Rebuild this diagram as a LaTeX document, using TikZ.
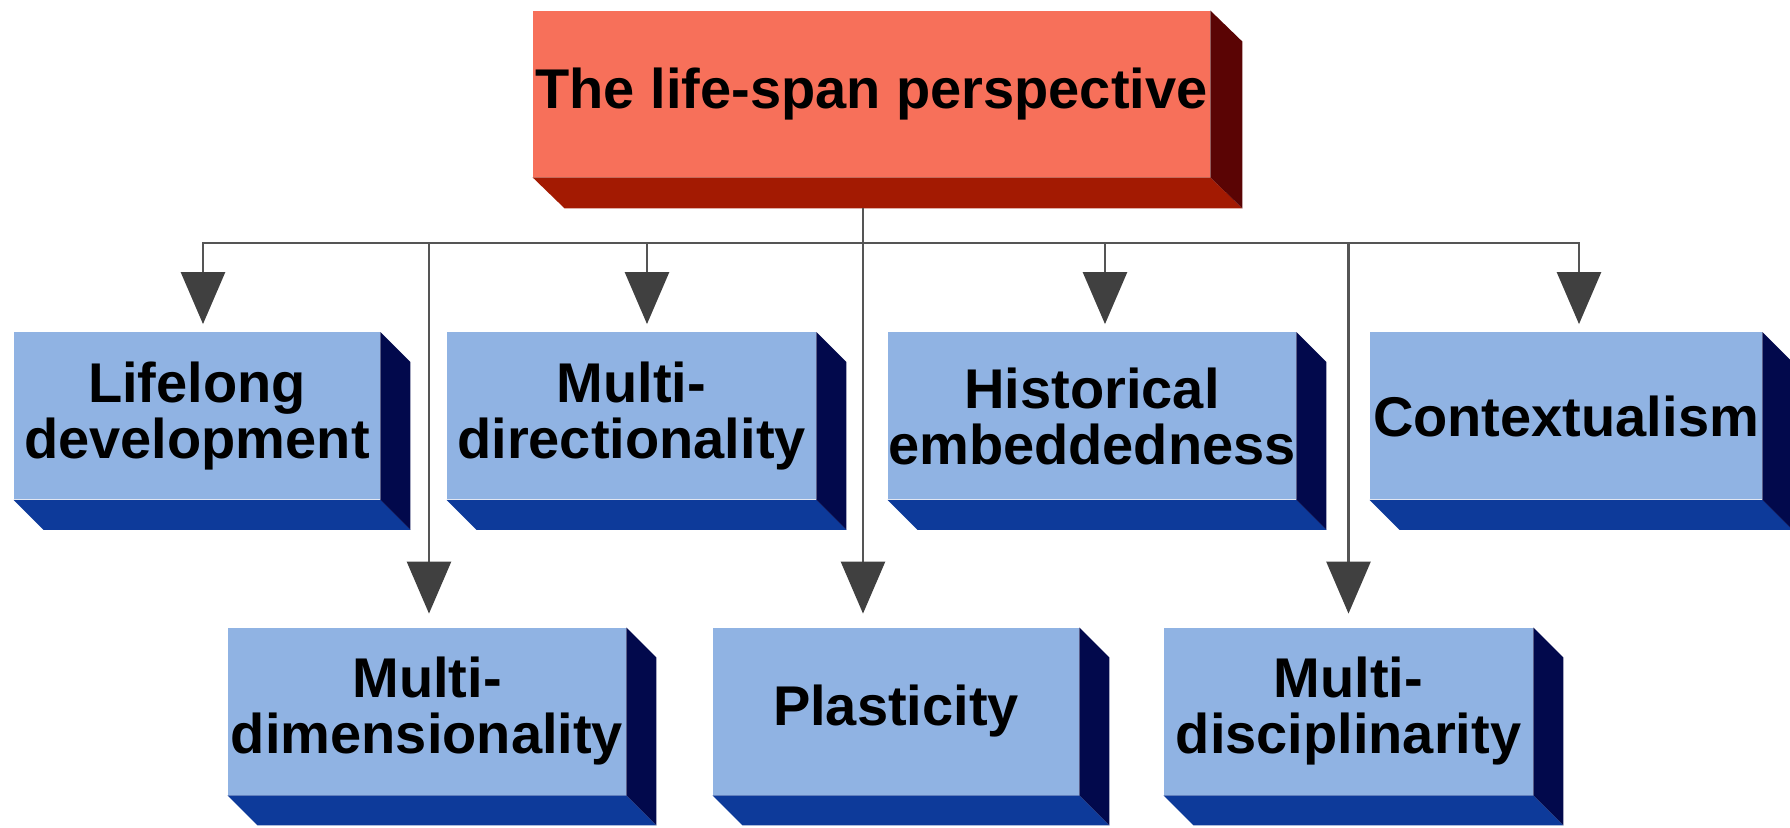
\documentclass[tikz,border=0pt]{standalone}
\usepackage{fontspec}
\setmainfont{Liberation Sans}
\usetikzlibrary{arrows.meta}
\definecolor{rootfront}{HTML}{F7705A}
\definecolor{rootbase}{HTML}{A31A02}
\definecolor{rootside}{HTML}{5A0404}
\definecolor{boxfront}{HTML}{90B3E3}
\definecolor{bluebase}{HTML}{0D3A9A}
\definecolor{blueside}{HTML}{02094C}
\definecolor{linegray}{HTML}{555555}
\definecolor{headgray}{HTML}{404040}
\begin{document}
\begin{tikzpicture}[x=0.5pt,y=-0.5pt,
    topicbox/.style={fill=boxfront,inner sep=0pt,minimum height=83.5pt,align=center,
        font=\fontsize{28}{28}\selectfont\bfseries},
    rootbox/.style={topicbox,fill=rootfront,minimum height=83pt},
    link/.style={draw=linegray,line width=1.3pt},
    arr/.style={link,-{Triangle[width=22pt,length=26pt,color=headgray]},shorten >=4pt}
]
\useasboundingbox (0,0) rectangle (1790,828);

\node[rootbox]  (root)  at (871.5,94)  [minimum width=338.5pt] {The life-span perspective};
\node[topicbox] (lif)   at (197,416)   [minimum width=183pt]   {Lifelong\\development};
\node[topicbox] (mdir)  at (631.5,416) [minimum width=184.5pt] {Multi-\\directionality};
\node[topicbox] (hist)  at (1092,416)  [minimum width=204pt]   {Historical\\embeddedness};
\node[topicbox] (ctx)   at (1566,416)  [minimum width=196pt]   {Contextualism};
\node[topicbox] (mdim)  at (427,711.5) [minimum width=199pt]   {Multi-\\dimensionality};
\node[topicbox] (plas)  at (896,711.5) [minimum width=183pt]   {Plasticity};
\node[topicbox] (mdisc) at (1348.5,711.5) [minimum width=184.5pt] {Multi-\\disciplinarity};

% extruded faces
\fill[rootbase] (root.south west) -- (root.south east) -- ++(16pt,-15.5pt)
    -- ([shift={(16pt,-15.5pt)}]root.south west) -- cycle;
\fill[rootside] (root.north east) -- ++(16pt,-15.5pt)
    -- ([shift={(16pt,-15.5pt)}]root.south east) -- (root.south east) -- cycle;
\foreach \n in {lif,mdir,hist,ctx,mdim,plas,mdisc} {
  \fill[bluebase] (\n.south west) -- (\n.south east) -- ++(15pt,-15pt)
      -- ([shift={(15pt,-15pt)}]\n.south west) -- cycle;
  \fill[blueside] (\n.north east) -- ++(15pt,-15pt)
      -- ([shift={(15pt,-15pt)}]\n.south east) -- (\n.south east) -- cycle;
}

% connectors
\coordinate (hub) at (863,243);
\draw[link] ([yshift=-15.5pt]root.south -| hub) -- (hub);
\draw[arr] (hub) -| ([xshift=3pt]lif.north);
\draw[arr] (hub) -| ([xshift=7.75pt]mdir.north);
\draw[arr] (hub) -| ([xshift=6.5pt]hist.north);
\draw[arr] (hub) -| ([xshift=6.5pt]ctx.north);
\draw[arr,shorten >=7pt] (hub) -| ([xshift=1pt]mdim.north);
\draw[arr,shorten >=7pt] (hub) -- (hub |- plas.north);
\draw[arr,shorten >=7pt] (hub) -| (mdisc.north);
\end{tikzpicture}
\end{document}
